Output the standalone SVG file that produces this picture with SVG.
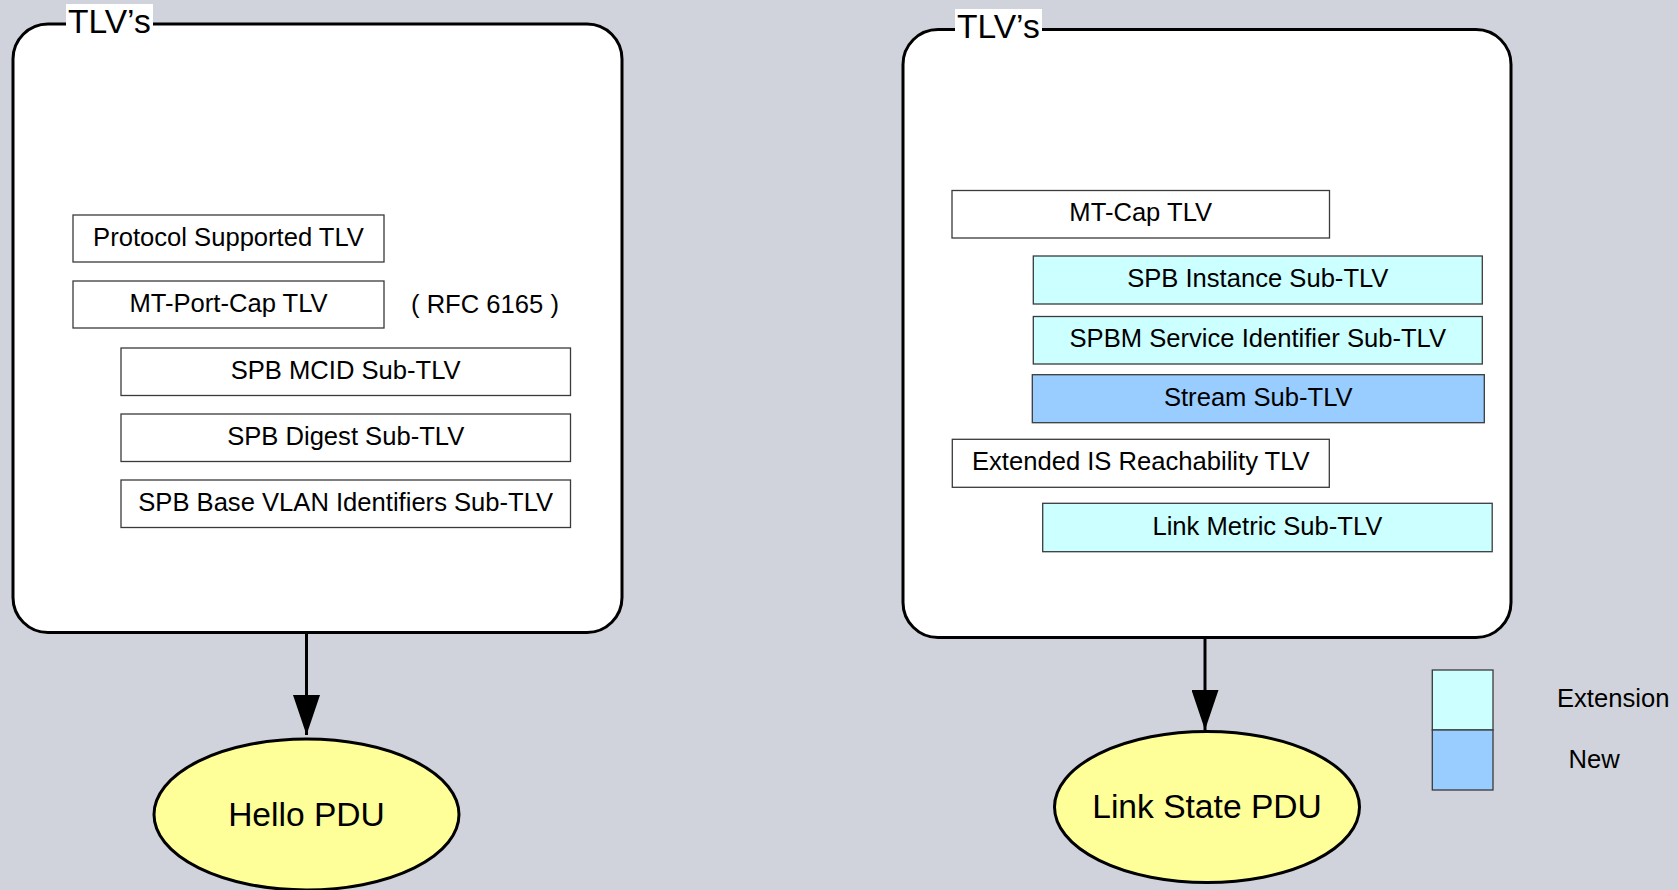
<svg xmlns="http://www.w3.org/2000/svg" width="1678" height="890" viewBox="0 0 1678 890">
  <style>
    .bg { fill: #d0d3db; }
    .frame { fill: #ffffff; stroke: #000000; stroke-width: 3; }
    .tlv { fill: #ffffff; stroke: #3a3a3a; stroke-width: 1.3; }
    .ext { fill: #ccffff; stroke: #3a3a3a; stroke-width: 1.3; }
    .new { fill: #99ccff; stroke: #3a3a3a; stroke-width: 1.3; }
    .pdu { fill: #ffff99; stroke: #000000; stroke-width: 3; }
    .label { font-family: "Liberation Sans", Arial, sans-serif; font-size: 25.6px; fill: #000000; }
    .big { font-family: "Liberation Sans", Arial, sans-serif; font-size: 33.6px; fill: #000000; }
    .mid { text-anchor: middle; }
    .edge { stroke: #000000; stroke-width: 3; fill: none; }
  </style>
  <defs>
    <marker id="arrow" viewBox="0 0 40 27" refX="40" refY="13.5" markerWidth="40" markerHeight="27" markerUnits="userSpaceOnUse" orient="auto">
      <path d="M0,0 L40,13.5 L0,27 Z" fill="#000000"/>
    </marker>
  </defs>

  <rect class="bg" x="0" y="0" width="1678" height="890"/>

  <!-- Hello PDU side -->
  <g id="hello-tlvs">
    <rect class="frame" x="13" y="24" width="609" height="608.5" rx="35" ry="35"/>
    <rect x="66" y="4" width="87" height="31" fill="#ffffff"/>
    <text class="big" x="68" y="33">TLV’s</text>
  </g>
  <g id="protocol-supported">
    <rect class="tlv" x="73" y="215" width="311" height="47"/>
    <text class="label mid" x="228.5" y="245.7">Protocol Supported TLV</text>
  </g>
  <g id="mt-port-cap">
    <rect class="tlv" x="73" y="281" width="311" height="47"/>
    <text class="label mid" x="228.5" y="311.7">MT-Port-Cap TLV</text>
  </g>
  <g id="rfc-note">
    <text class="label" x="411" y="312.5">( RFC 6165 )</text>
  </g>
  <g id="spb-mcid">
    <rect class="tlv" x="121" y="348" width="449.5" height="47.5"/>
    <text class="label mid" x="345.7" y="378.8">SPB MCID Sub-TLV</text>
  </g>
  <g id="spb-digest">
    <rect class="tlv" x="121" y="414" width="449.5" height="47.5"/>
    <text class="label mid" x="345.7" y="444.8">SPB Digest Sub-TLV</text>
  </g>
  <g id="spb-base-vlan">
    <rect class="tlv" x="121" y="480" width="449.5" height="47.5"/>
    <text class="label mid" x="345.7" y="510.8">SPB Base VLAN Identifiers Sub-TLV</text>
  </g>
  <g id="hello-pdu">
    <ellipse class="pdu" cx="306.5" cy="814.5" rx="152.5" ry="75.5"/>
    <text class="big mid" x="306.5" y="825.5">Hello PDU</text>
  </g>

  <!-- Link State PDU side -->
  <g id="lsp-tlvs">
    <rect class="frame" x="903" y="29.5" width="608" height="608" rx="35" ry="35"/>
    <rect x="955" y="9" width="87" height="31" fill="#ffffff"/>
    <text class="big" x="957" y="38">TLV’s</text>
  </g>
  <g id="mt-cap">
    <rect class="tlv" x="952" y="190.5" width="377.5" height="47.5"/>
    <text class="label mid" x="1140.7" y="221.2">MT-Cap TLV</text>
  </g>
  <g id="spb-instance">
    <rect class="ext" x="1033.3" y="256" width="449" height="48"/>
    <text class="label mid" x="1257.8" y="287.2">SPB Instance Sub-TLV</text>
  </g>
  <g id="spbm-service-id">
    <rect class="ext" x="1033.3" y="316.5" width="449" height="47.5"/>
    <text class="label mid" x="1257.8" y="347.4">SPBM Service Identifier Sub-TLV</text>
  </g>
  <g id="stream">
    <rect class="new" x="1032.3" y="374.7" width="452" height="48"/>
    <text class="label mid" x="1258.3" y="405.8">Stream Sub-TLV</text>
  </g>
  <g id="extended-is-reachability">
    <rect class="tlv" x="952.3" y="439.3" width="377" height="48"/>
    <text class="label mid" x="1140.8" y="470.4">Extended IS Reachability TLV</text>
  </g>
  <g id="link-metric">
    <rect class="ext" x="1042.7" y="503.3" width="449.5" height="48.4"/>
    <text class="label mid" x="1267.4" y="534.6">Link Metric Sub-TLV</text>
  </g>
  <g id="link-state-pdu">
    <ellipse class="pdu" cx="1207" cy="807" rx="152.5" ry="75.5"/>
    <text class="big mid" x="1207" y="818">Link State PDU</text>
  </g>

  <!-- Legend -->
  <g id="legend">
    <rect class="ext" x="1432.3" y="670" width="60.7" height="60"/>
    <rect class="new" x="1432.3" y="730" width="60.7" height="60"/>
    <text class="label" x="1557" y="706.5">Extension</text>
    <text class="label" x="1568.5" y="767.5">New</text>
  </g>

  <!-- Connectors -->
  <g id="connectors">
    <line class="edge" x1="306.5" y1="633" x2="306.5" y2="735" marker-end="url(#arrow)"/>
    <line class="edge" x1="1205" y1="638" x2="1205" y2="730" marker-end="url(#arrow)"/>
  </g>
</svg>
